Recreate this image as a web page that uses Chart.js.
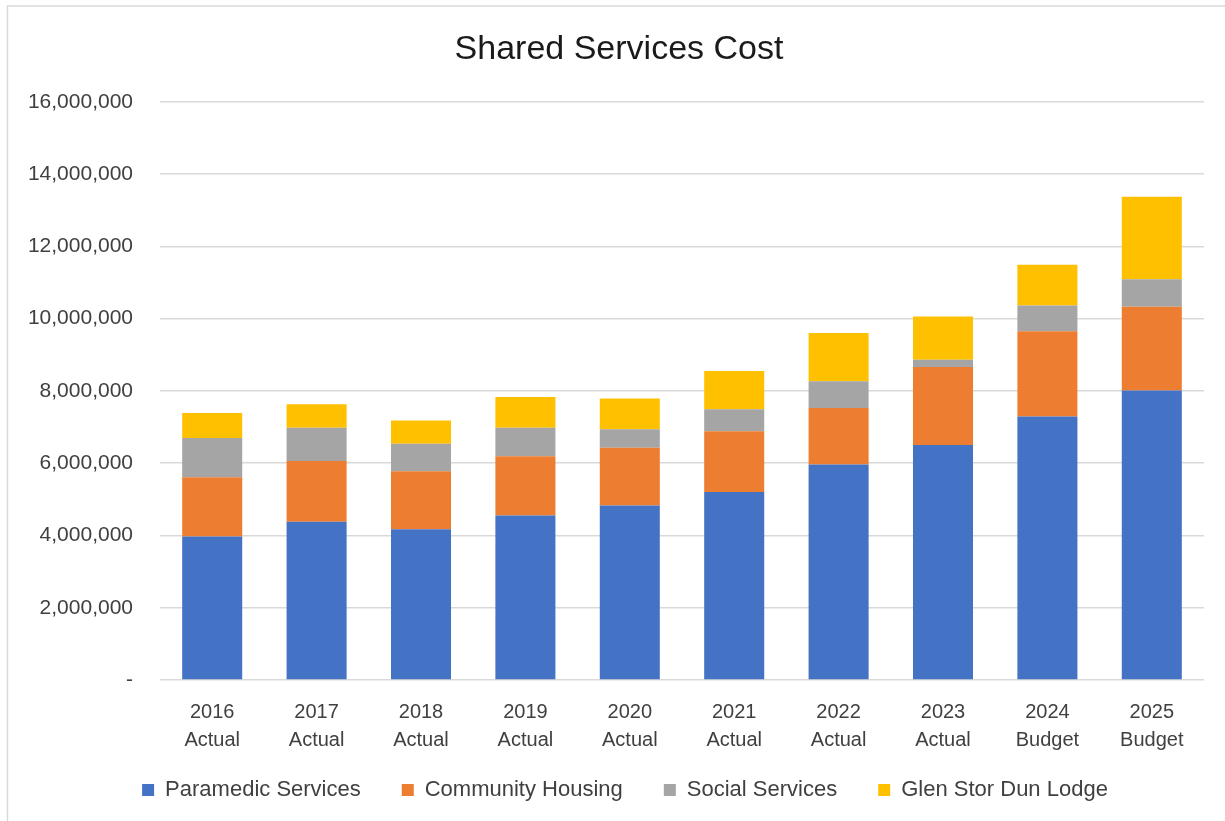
<!DOCTYPE html>
<html>
<head>
<meta charset="utf-8">
<script src="https://cdn.jsdelivr.net/npm/chart.js@4"></script>
<style>
html,body{margin:0;padding:0;background:#fff;}
#wrap{position:absolute;left:0;top:0;width:1225px;height:821px;}
</style>
</head>
<body>
<div id="wrap"><canvas id="c" width="1225" height="821"></canvas></div>
<script>
const categories = [
  ['2016','Actual'],['2017','Actual'],['2018','Actual'],['2019','Actual'],['2020','Actual'],
  ['2021','Actual'],['2022','Actual'],['2023','Actual'],['2024','Budget'],['2025','Budget']
];
const paramedic = [3970000,4380000,4170000,4550000,4830000,5200000,5960000,6500000,7290000,8010000];
const housing   = [1640000,1680000,1610000,1640000,1600000,1680000,1570000,2160000,2360000,2320000];
const social    = [1090000,920000,760000,790000,510000,610000,740000,200000,710000,760000];
const glen      = [690000,650000,640000,850000,850000,1060000,1330000,1200000,1130000,2280000];
const seriesNames = ['Paramedic Services','Community Housing','Social Services','Glen Stor Dun Lodge'];
const colors = ['#4472C4','#ED7D31','#A5A5A5','#FFC000'];
const yTicks = [0,2000000,4000000,6000000,8000000,10000000,12000000,14000000,16000000];

const FONT = "'Liberation Sans', Arial, sans-serif";
const textColor = '#404040';

const borderPlugin = {
  id: 'outerBorder',
  beforeDraw(chart){
    const ctx = chart.ctx;
    ctx.save();
    ctx.fillStyle = '#fff';
    ctx.fillRect(0,0,chart.width,chart.height);
    ctx.strokeStyle = '#d9d9d9';
    ctx.lineWidth = 1.5;
    ctx.strokeRect(7.5,6,1400,1000);
    ctx.restore();
  }
};

// fine-tune placement of legend and title boxes
const boxAdjust = {
  id: 'boxAdjust',
  afterInit(chart){
    const lg = chart.legend;
    if (lg) {
      const fit = lg.fit.bind(lg);
      lg.fit = function(){ fit(); this.height = 57; };
      const draw = lg.draw.bind(lg);
      lg.draw = function(){
        const c = this.ctx, t = this.top;
        this.top = t - 16;
        c.save(); c.translate(13,0); draw(); c.restore();
        this.top = t;
      };
    }
    const tb = chart.titleBlock;
    if (tb) {
      const draw = tb.draw.bind(tb);
      tb.draw = function(){ const c = this.ctx; c.save(); c.translate(7,2); draw(); c.restore(); };
    }
  }
};

const data = {
  labels: categories,
  datasets: [paramedic, housing, social, glen].map((d,i)=>({
    label: seriesNames[i],
    data: d,
    backgroundColor: colors[i],
    borderWidth: 0,
    barPercentage: 0.575,
    categoryPercentage: 1.0
  }))
};

new Chart(document.getElementById('c'), {
  type: 'bar',
  data,
  plugins: [borderPlugin, boxAdjust],
  options: {
    responsive: false,
    animation: false,
    layout: { padding: { left: 20, right: 21, top: 10, bottom: 10 } },
    plugins: {
      title: {
        display: true,
        text: 'Shared Services Cost',
        color: '#1a1a1a',
        font: { family: FONT, size: 34, weight: 'normal' },
        padding: { top: 17, bottom: 34 }
      },
      legend: {
        position: 'bottom',
        labels: {
          color: textColor,
          font: { family: FONT, size: 22 },
          boxWidth: 12,
          boxHeight: 12,
          padding: 41
        }
      },
      tooltip: { enabled: false }
    },
    scales: {
      x: {
        stacked: true,
        afterFit(scale){ scale.height = 74; },
        grid: { display: false, drawTicks: false },
        border: { display: false },
        ticks: {
          color: textColor,
          font: { family: FONT, size: 20, lineHeight: 1.37 },
          padding: 19,
          maxRotation: 0
        }
      },
      y: {
        stacked: true,
        min: 0,
        max: 16000000,
        afterBuildTicks(scale){ scale.ticks = yTicks.map(v=>({value:v})); },
        afterFit(scale){ scale.width = 140; },
        grid: { color: '#d9d9d9', lineWidth: 1.5, drawTicks: false },
        border: { display: false },
        ticks: {
          color: textColor,
          font: { family: FONT, size: 21 },
          padding: 27,
          callback: v => v === 0 ? '-' : v.toLocaleString('en-US')
        }
      }
    }
  }
});
</script>
</body>
</html>
